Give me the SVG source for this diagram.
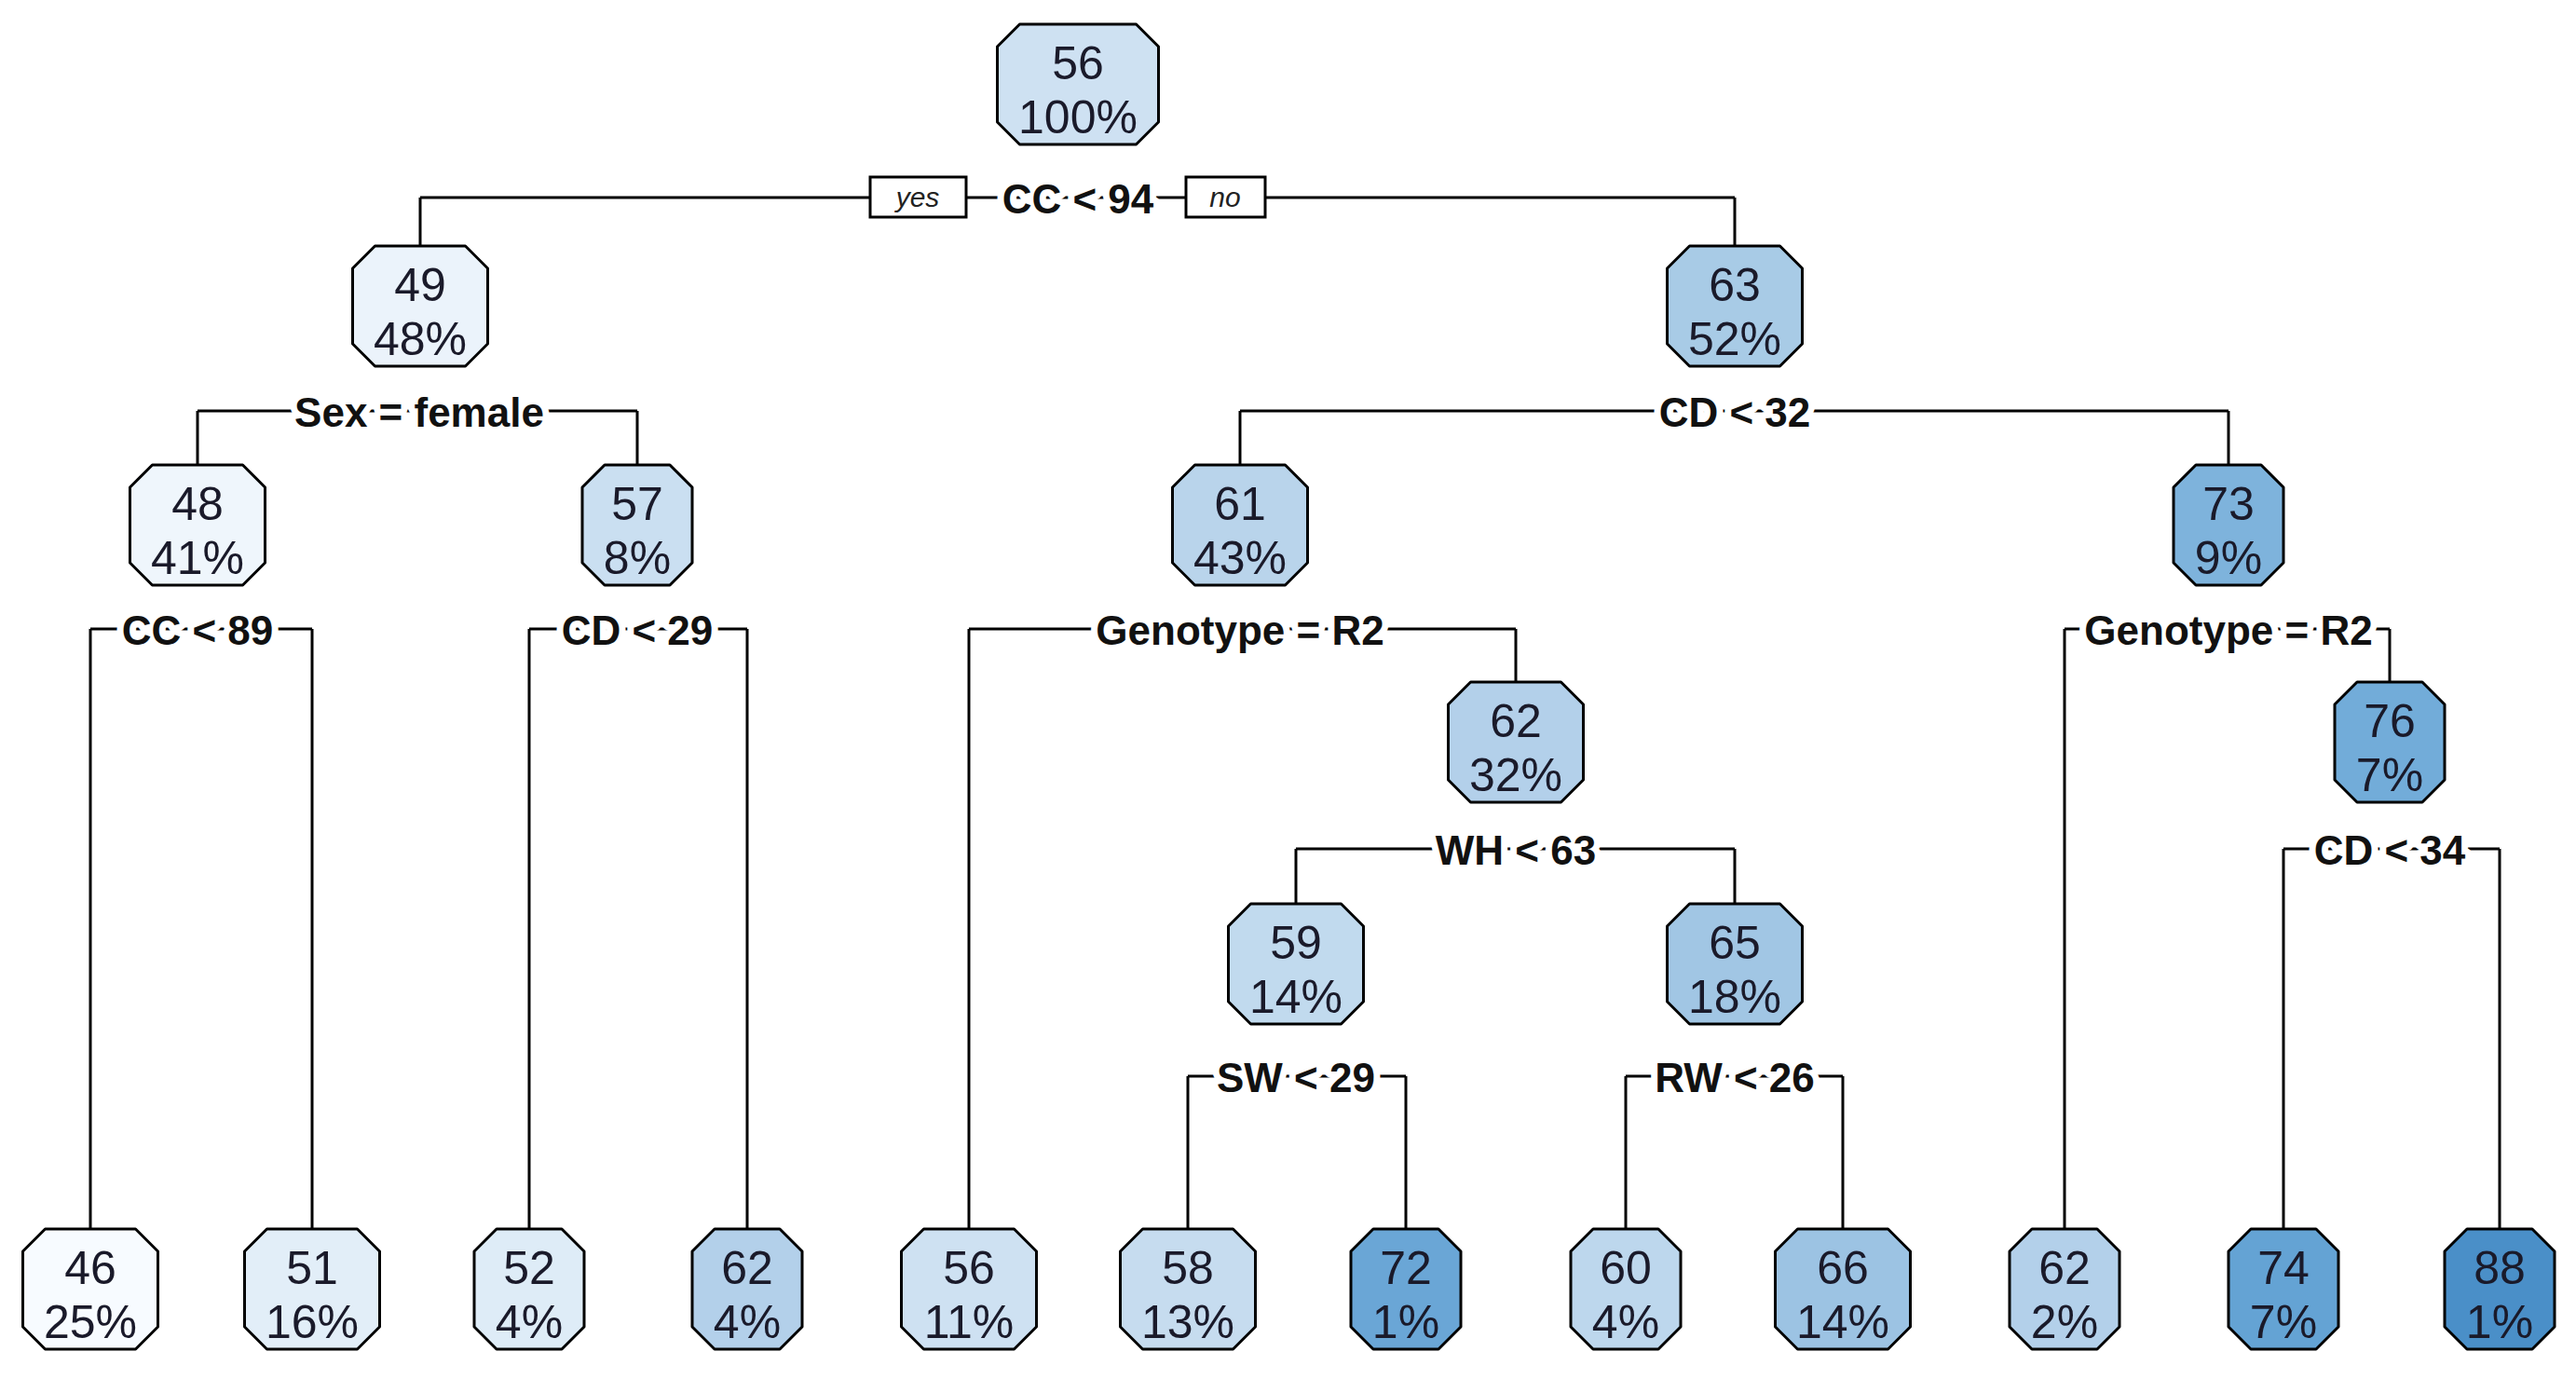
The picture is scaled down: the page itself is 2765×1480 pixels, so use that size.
<svg xmlns="http://www.w3.org/2000/svg" xmlns:xlink="http://www.w3.org/1999/xlink" width="2765" height="1480" viewBox="0 0 2765 1480">
<style>
.nd{stroke:#000;stroke-width:3;stroke-linejoin:round}
.nt{font-family:"Liberation Sans Narrow","Liberation Sans",Arial,sans-serif;font-size:50px;fill:#1a1a2a;text-anchor:middle}
.sp{font-family:"Liberation Sans",Arial,sans-serif;font-size:44px;font-weight:bold;fill:#111;text-anchor:middle;stroke:#fff;stroke-width:14px;paint-order:stroke;stroke-linejoin:round}
.cn line{stroke:#000;stroke-width:3}
.yn{font-family:"Liberation Sans",Arial,sans-serif;font-size:30px;font-style:italic;fill:#222;text-anchor:middle}
</style>
<defs>
<polygon id="w" points="-48.5,0 48.5,0 72.5,24 72.5,105 48.5,129 -48.5,129 -72.5,105 -72.5,24"/>
<polygon id="n" points="-35,0 35,0 59,24 59,105 35,129 -35,129 -59,105 -59,24"/>
<polygon id="r" points="-62.5,0 62.5,0 86.5,24 86.5,105 62.5,129 -62.5,129 -86.5,105 -86.5,24"/>
</defs>
<rect width="2765" height="1480" fill="#fff"/>
<g id="connectors" class="cn">
<line x1="451" y1="212" x2="1862" y2="212"/><line x1="451" y1="212" x2="451" y2="264"/><line x1="1862" y1="212" x2="1862" y2="264"/>
<line x1="212" y1="441" x2="684" y2="441"/><line x1="212" y1="441" x2="212" y2="499"/><line x1="684" y1="441" x2="684" y2="499"/>
<line x1="1331" y1="441" x2="2392" y2="441"/><line x1="1331" y1="441" x2="1331" y2="499"/><line x1="2392" y1="441" x2="2392" y2="499"/>
<line x1="97" y1="675" x2="335" y2="675"/><line x1="97" y1="675" x2="97" y2="1319"/><line x1="335" y1="675" x2="335" y2="1319"/>
<line x1="568" y1="675" x2="802" y2="675"/><line x1="568" y1="675" x2="568" y2="1319"/><line x1="802" y1="675" x2="802" y2="1319"/>
<line x1="1040" y1="675" x2="1627" y2="675"/><line x1="1040" y1="675" x2="1040" y2="1319"/><line x1="1627" y1="675" x2="1627" y2="732"/>
<line x1="2216" y1="675" x2="2565" y2="675"/><line x1="2216" y1="675" x2="2216" y2="1319"/><line x1="2565" y1="675" x2="2565" y2="732"/>
<line x1="1391" y1="911" x2="1862" y2="911"/><line x1="1391" y1="911" x2="1391" y2="970"/><line x1="1862" y1="911" x2="1862" y2="970"/>
<line x1="1275" y1="1155" x2="1509" y2="1155"/><line x1="1275" y1="1155" x2="1275" y2="1319"/><line x1="1509" y1="1155" x2="1509" y2="1319"/>
<line x1="1745" y1="1155" x2="1978" y2="1155"/><line x1="1745" y1="1155" x2="1745" y2="1319"/><line x1="1978" y1="1155" x2="1978" y2="1319"/>
<line x1="2451" y1="911" x2="2683" y2="911"/><line x1="2451" y1="911" x2="2451" y2="1319"/><line x1="2683" y1="911" x2="2683" y2="1319"/>
</g>
<g id="labels">
<rect x="934" y="190" width="103" height="43" fill="#fff" stroke="#000" stroke-width="3"/><text class="yn" x="985" y="222">yes</text>
<rect x="1273" y="190" width="85" height="43" fill="#fff" stroke="#000" stroke-width="3"/><text class="yn" x="1315" y="222">no</text>
<text class="sp" x="1157" y="229">CC &lt; 94</text>
<text class="sp" x="450" y="458">Sex = female</text>
<text class="sp" x="1862" y="458">CD &lt; 32</text>
<text class="sp" x="212" y="692">CC &lt; 89</text>
<text class="sp" x="684" y="692">CD &lt; 29</text>
<text class="sp" x="1331" y="692">Genotype = R2</text>
<text class="sp" x="2392" y="692">Genotype = R2</text>
<text class="sp" x="1627" y="928">WH &lt; 63</text>
<text class="sp" x="1391" y="1172">SW &lt; 29</text>
<text class="sp" x="1862" y="1172">RW &lt; 26</text>
<text class="sp" x="2565" y="928">CD &lt; 34</text>
</g>
<g id="n1"><use href="#r" x="1157" y="26" fill="#cee1f2" class="nd"/><text class="nt" x="1157" y="85">56</text><text class="nt" x="1157" y="143">100%</text></g>
<g id="n2"><use href="#w" x="451" y="264" fill="#ebf3fb" class="nd"/><text class="nt" x="451" y="323">49</text><text class="nt" x="451" y="381">48%</text></g>
<g id="n3"><use href="#w" x="1862" y="264" fill="#a8cbe6" class="nd"/><text class="nt" x="1862" y="323">63</text><text class="nt" x="1862" y="381">52%</text></g>
<g id="n4"><use href="#w" x="212" y="499" fill="#eff6fc" class="nd"/><text class="nt" x="212" y="558">48</text><text class="nt" x="212" y="616">41%</text></g>
<g id="n5"><use href="#n" x="684" y="499" fill="#cadff1" class="nd"/><text class="nt" x="684" y="558">57</text><text class="nt" x="684" y="616">8%</text></g>
<g id="n6"><use href="#w" x="1331" y="499" fill="#b9d4eb" class="nd"/><text class="nt" x="1331" y="558">61</text><text class="nt" x="1331" y="616">43%</text></g>
<g id="n7"><use href="#n" x="2392" y="499" fill="#7eb3dc" class="nd"/><text class="nt" x="2392" y="558">73</text><text class="nt" x="2392" y="616">9%</text></g>
<g id="n8"><use href="#w" x="1627" y="732" fill="#b3d0ea" class="nd"/><text class="nt" x="1627" y="791">62</text><text class="nt" x="1627" y="849">32%</text></g>
<g id="n9"><use href="#n" x="2565" y="732" fill="#72acd9" class="nd"/><text class="nt" x="2565" y="791">76</text><text class="nt" x="2565" y="849">7%</text></g>
<g id="n10"><use href="#w" x="1391" y="970" fill="#c1daee" class="nd"/><text class="nt" x="1391" y="1029">59</text><text class="nt" x="1391" y="1087">14%</text></g>
<g id="n11"><use href="#w" x="1862" y="970" fill="#a1c6e4" class="nd"/><text class="nt" x="1862" y="1029">65</text><text class="nt" x="1862" y="1087">18%</text></g>
<g id="l1"><use href="#w" x="97" y="1319" fill="#f7fbff" class="nd"/><text class="nt" x="97" y="1378">46</text><text class="nt" x="97" y="1436">25%</text></g>
<g id="l2"><use href="#w" x="335" y="1319" fill="#e2eef8" class="nd"/><text class="nt" x="335" y="1378">51</text><text class="nt" x="335" y="1436">16%</text></g>
<g id="l3"><use href="#n" x="568" y="1319" fill="#deecf7" class="nd"/><text class="nt" x="568" y="1378">52</text><text class="nt" x="568" y="1436">4%</text></g>
<g id="l4"><use href="#n" x="802" y="1319" fill="#b3d0ea" class="nd"/><text class="nt" x="802" y="1378">62</text><text class="nt" x="802" y="1436">4%</text></g>
<g id="l5"><use href="#w" x="1040" y="1319" fill="#cee1f2" class="nd"/><text class="nt" x="1040" y="1378">56</text><text class="nt" x="1040" y="1436">11%</text></g>
<g id="l6"><use href="#w" x="1275" y="1319" fill="#c6dcef" class="nd"/><text class="nt" x="1275" y="1378">58</text><text class="nt" x="1275" y="1436">13%</text></g>
<g id="l7"><use href="#n" x="1509" y="1319" fill="#6aa6d6" class="nd"/><text class="nt" x="1509" y="1378">72</text><text class="nt" x="1509" y="1436">1%</text></g>
<g id="l8"><use href="#n" x="1745" y="1319" fill="#bdd7ed" class="nd"/><text class="nt" x="1745" y="1378">60</text><text class="nt" x="1745" y="1436">4%</text></g>
<g id="l9"><use href="#w" x="1978" y="1319" fill="#9cc3e3" class="nd"/><text class="nt" x="1978" y="1378">66</text><text class="nt" x="1978" y="1436">14%</text></g>
<g id="l10"><use href="#n" x="2216" y="1319" fill="#b3d0ea" class="nd"/><text class="nt" x="2216" y="1378">62</text><text class="nt" x="2216" y="1436">2%</text></g>
<g id="l11"><use href="#n" x="2451" y="1319" fill="#64a3d4" class="nd"/><text class="nt" x="2451" y="1378">74</text><text class="nt" x="2451" y="1436">7%</text></g>
<g id="l12"><use href="#n" x="2683" y="1319" fill="#4a8fc8" class="nd"/><text class="nt" x="2683" y="1378">88</text><text class="nt" x="2683" y="1436">1%</text></g>
</svg>
